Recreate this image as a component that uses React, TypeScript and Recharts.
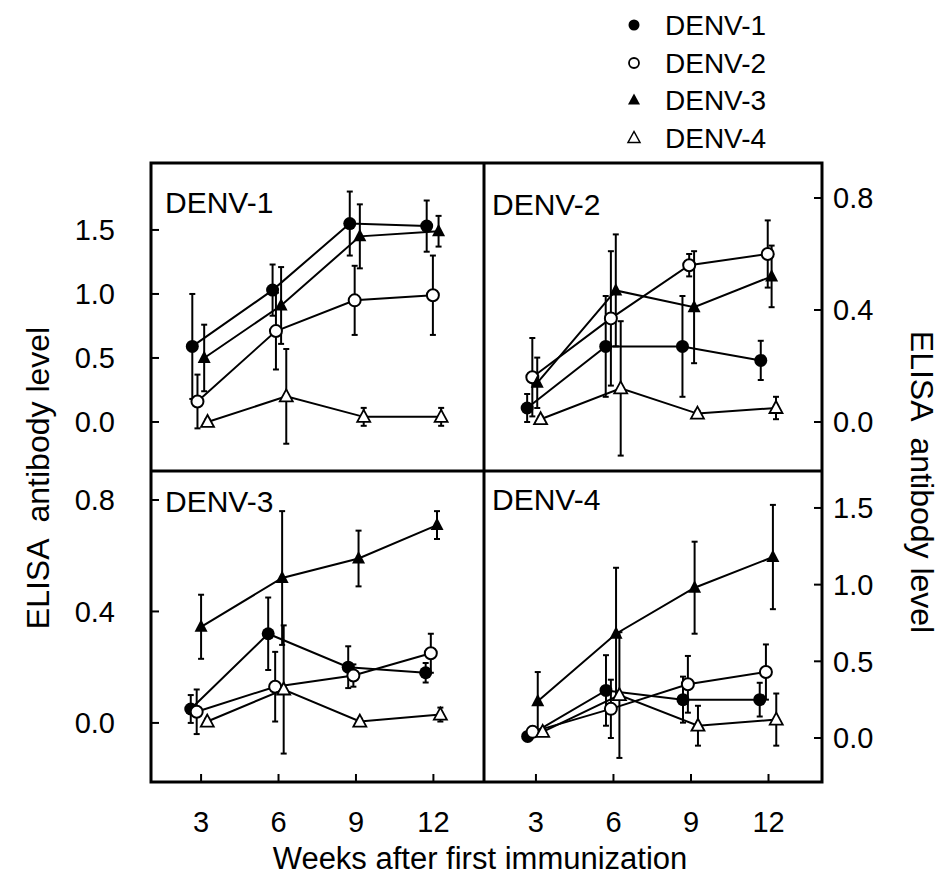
import React from 'react'
import { ScatterChart, Scatter, XAxis, YAxis, ErrorBar } from 'recharts'

// each point: [week, ELISA level, sd]
type Pt = [number, number, number]

const serotypes = ['DENV-1', 'DENV-2', 'DENV-3', 'DENV-4']
const weekTicks = [3, 6, 9, 12]
const wideTicks = [0, 0.5, 1, 1.5]
const narrowTicks = [0, 0.4, 0.8]

// panel DENV-1 (top left)
const tlDenv1: Pt[] = [[2.66, 0.59, 0.41], [5.77, 1.03, 0.2], [8.76, 1.55, 0.25], [11.74, 1.53, 0.2]]
const tlDenv2: Pt[] = [[2.86, 0.16, 0.21], [5.9, 0.71, 0.3], [8.95, 0.95, 0.27], [11.98, 0.99, 0.31]]
const tlDenv3: Pt[] = [[3.12, 0.5, 0.26], [6.1, 0.91, 0.3], [9.15, 1.45, 0.25], [12.2, 1.49, 0.12]]
const tlDenv4: Pt[] = [[3.25, 0.0, 0.02], [6.3, 0.2, 0.37], [9.3, 0.04, 0.07], [12.3, 0.04, 0.07]]

// panel DENV-2 (top right)
const trDenv1: Pt[] = [[2.66, 0.05, 0.05], [5.7, 0.27, 0.18], [8.67, 0.27, 0.18], [11.7, 0.22, 0.07]]
const trDenv2: Pt[] = [[2.86, 0.16, 0.14], [5.9, 0.37, 0.24], [8.93, 0.56, 0.04], [11.97, 0.6, 0.12]]
const trDenv3: Pt[] = [[3.05, 0.14, 0.09], [6.09, 0.47, 0.2], [9.12, 0.41, 0.2], [12.12, 0.52, 0.11]]
const trDenv4: Pt[] = [[3.18, 0.01, 0.01], [6.28, 0.12, 0.24], [9.25, 0.03, 0.01], [12.29, 0.05, 0.04]]

// panel DENV-3 (bottom left)
const blDenv1: Pt[] = [[2.6, 0.05, 0.05], [5.6, 0.32, 0.13], [8.7, 0.2, 0.075], [11.7, 0.18, 0.035]]
const blDenv2: Pt[] = [[2.83, 0.04, 0.08], [5.87, 0.13, 0.125], [8.9, 0.17, 0.04], [11.9, 0.25, 0.07]]
const blDenv3: Pt[] = [[3.0, 0.345, 0.115], [6.14, 0.52, 0.24], [9.1, 0.59, 0.1], [12.14, 0.71, 0.05]]
const blDenv4: Pt[] = [[3.24, 0.005, 0.01], [6.2, 0.12, 0.23], [9.15, 0.005, 0.01], [12.27, 0.03, 0.025]]

// panel DENV-4 (bottom right)
const brDenv1: Pt[] = [[2.68, 0.01, 0.01], [5.71, 0.31, 0.23], [8.69, 0.25, 0.15], [11.66, 0.25, 0.11]]
const brDenv2: Pt[] = [[2.87, 0.04, 0.02], [5.9, 0.19, 0.19], [8.88, 0.35, 0.185], [11.9, 0.43, 0.18]]
const brDenv3: Pt[] = [[3.07, 0.24, 0.19], [6.1, 0.68, 0.43], [9.14, 0.98, 0.3], [12.17, 1.18, 0.34]]
const brDenv4: Pt[] = [[3.26, 0.04, 0.02], [6.23, 0.28, 0.41], [9.27, 0.08, 0.13], [12.3, 0.12, 0.17]]

const FONT = '"Liberation Sans", Arial, Helvetica, sans-serif'

const toRows = (pts: Pt[]) => pts.map(([week, level, sd]) => ({ week, level, sd }))

function FilledCircle({ cx, cy }: any) {
  return <circle cx={cx} cy={cy} r={6.5} fill="#000" />
}
function OpenCircle({ cx, cy }: any) {
  return <circle cx={cx} cy={cy} r={6} fill="#fff" stroke="#000" strokeWidth={2} />
}
function FilledTriangle({ cx, cy }: any) {
  return <polygon points={`${cx},${cy - 7.5} ${cx - 6.5},${cy + 5} ${cx + 6.5},${cy + 5}`} fill="#000" />
}
function OpenTriangle({ cx, cy }: any) {
  return (
    <polygon
      points={`${cx},${cy - 7} ${cx - 6.5},${cy + 5} ${cx + 6.5},${cy + 5}`}
      fill="#fff"
      stroke="#000"
      strokeWidth={1.8}
    />
  )
}
const shapes = [FilledCircle, OpenCircle, FilledTriangle, OpenTriangle]

interface PanelProps {
  left: number
  top: number
  right?: boolean
  bottom?: boolean
  yDomain: [number, number]
  yTicks: number[]
  xDomain: [number, number]
  series: Pt[][]
}

function Panel({ left, top, right, bottom, yDomain, yTicks, xDomain, series }: PanelProps) {
  const plotW = right ? 338 : 333
  const plotH = bottom ? 311 : 308
  const axisW = right ? 60 : 91
  const xH = bottom ? 60 : 20
  const tickStyle = { fill: '#000', fontSize: 29, fontFamily: FONT }
  return (
    <div style={{ position: 'absolute', left: right ? left : left - axisW, top }}>
      <ScatterChart
        width={plotW + axisW}
        height={plotH + xH}
        margin={{ top: 0, right: 0, bottom: 0, left: 0 }}
      >
        <XAxis
          type="number"
          dataKey="week"
          domain={xDomain}
          ticks={weekTicks}
          interval={0}
          allowDataOverflow
          axisLine={false}
          tickSize={-8}
          tickMargin={37}
          tickLine={{ stroke: '#000', strokeWidth: 2 }}
          tick={bottom ? tickStyle : false}
          height={xH}
        />
        <YAxis
          type="number"
          dataKey="level"
          orientation={right ? 'right' : 'left'}
          domain={yDomain}
          ticks={yTicks}
          interval={0}
          allowDataOverflow
          axisLine={false}
          width={axisW}
          tickSize={-8}
          tickMargin={right ? 19 : 44}
          tickLine={{ stroke: '#000', strokeWidth: 2 }}
          tickFormatter={(v: number) => v.toFixed(1)}
          tick={tickStyle}
        />
        {series.map((pts, i) => (
          <Scatter
            key={serotypes[i]}
            name={serotypes[i]}
            data={toRows(pts)}
            shape={shapes[i]}
            line={{ stroke: '#000', strokeWidth: 2 }}
            lineJointType="linear"
            isAnimationActive={false}
          >
            <ErrorBar dataKey="sd" direction="y" width={3} strokeWidth={2} stroke="#000" />
          </Scatter>
        ))}
      </ScatterChart>
    </div>
  )
}

function LegendMark({ i, x, y }: { i: number; x: number; y: number }) {
  if (i === 0) return <circle cx={x} cy={y} r={5.5} fill="#000" />
  if (i === 1) return <circle cx={x} cy={y} r={5} fill="#fff" stroke="#000" strokeWidth={1.8} />
  const pts = `${x},${y - 6.5} ${x - 6},${y + 4.5} ${x + 6},${y + 4.5}`
  if (i === 2) return <polygon points={pts} fill="#000" />
  return <polygon points={pts} fill="#fff" stroke="#000" strokeWidth={1.5} />
}

const legendRows = [25, 63, 100, 138]

export default function App() {
  return (
    <div
      style={{
        position: 'absolute',
        left: 0,
        top: 0,
        width: 944,
        height: 875,
        background: '#fff',
        fontFamily: FONT,
      }}
    >
      <Panel left={151} top={163} yDomain={[-0.383, 2.023]} yTicks={wideTicks} xDomain={[1.06, 13.96]} series={[tlDenv1, tlDenv2, tlDenv3, tlDenv4]} />
      <Panel left={484} top={163} right yDomain={[-0.175, 0.925]} yTicks={narrowTicks} xDomain={[0.99, 14.07]} series={[trDenv1, trDenv2, trDenv3, trDenv4]} />
      <Panel left={151} top={471} bottom yDomain={[-0.212, 0.904]} yTicks={narrowTicks} xDomain={[1.06, 13.96]} series={[blDenv1, blDenv2, blDenv3, blDenv4]} />
      <Panel left={484} top={471} right bottom yDomain={[-0.287, 1.741]} yTicks={wideTicks} xDomain={[0.99, 14.07]} series={[brDenv1, brDenv2, brDenv3, brDenv4]} />

      <svg width={944} height={875} style={{ position: 'absolute', left: 0, top: 0, pointerEvents: 'none' }}>
        {/* panel frames */}
        <rect x={151} y={163} width={671} height={619} fill="none" stroke="#000" strokeWidth={3} />
        <line x1={484} y1={163} x2={484} y2={782} stroke="#000" strokeWidth={3} />
        <line x1={151} y1={471} x2={822} y2={471} stroke="#000" strokeWidth={3} />

        <g fontFamily={FONT} fontSize={30} fill="#000">
          <text x={165} y={213}>DENV-1</text>
          <text x={492} y={215}>DENV-2</text>
          <text x={165} y={512}>DENV-3</text>
          <text x={492} y={510}>DENV-4</text>
        </g>

        <text
          transform="translate(38,478) rotate(-90)"
          textAnchor="middle"
          dominantBaseline="central"
          fontFamily={FONT}
          fontSize={32}
          xmlSpace="preserve"
        >
          ELISA  antibody level
        </text>
        <text
          transform="translate(922,482) rotate(90)"
          textAnchor="middle"
          dominantBaseline="central"
          fontFamily={FONT}
          fontSize={32}
          xmlSpace="preserve"
        >
          ELISA  antibody level
        </text>
        <text x={480} y={869} textAnchor="middle" fontFamily={FONT} fontSize={31}>
          Weeks after first immunization
        </text>

        {serotypes.map((s, i) => (
          <g key={s}>
            <LegendMark i={i} x={634} y={legendRows[i]} />
            <text x={665} y={legendRows[i] + 10} fontFamily={FONT} fontSize={28}>
              {s}
            </text>
          </g>
        ))}
      </svg>
    </div>
  )
}
